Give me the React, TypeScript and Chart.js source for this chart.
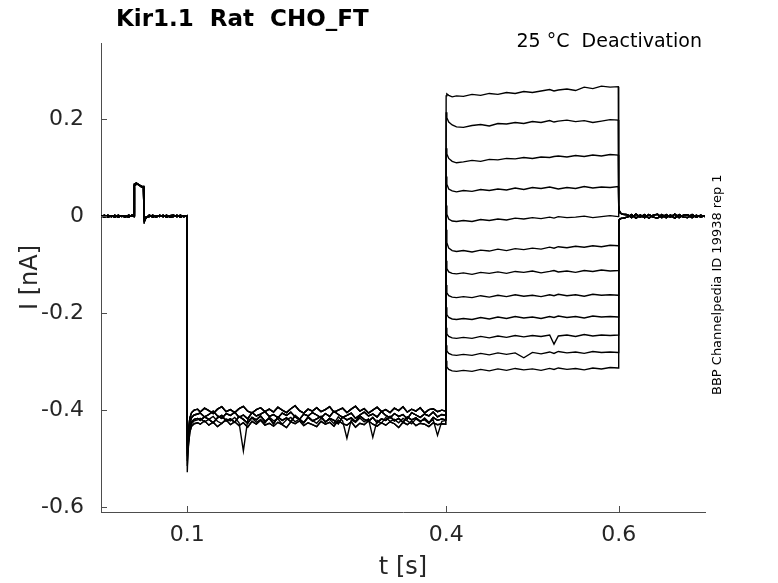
import React, { useEffect, useRef } from "react";
import { Chart, registerables } from "chart.js";

Chart.register(...registerables);

const xTicks = [0.1, 0.4, 0.6];
const yTicks = [-0.6, -0.4, -0.2, 0, 0.2];

// pre-step segment (holding + short prepulse), 2 variants
const preT = [0, 0.004, 0.008, 0.012, 0.016, 0.02, 0.024, 0.028, 0.032, 0.036, 0.0383, 0.0387, 0.041, 0.044, 0.047, 0.0493, 0.0497, 0.0503, 0.052, 0.056, 0.06, 0.064, 0.068, 0.072, 0.076, 0.08, 0.084, 0.088, 0.092, 0.096, 0.0995];
const preA = [0.001, -0.002, 0.002, -0.001, 0.002, -0.002, 0.001, -0.002, 0.002, 0.0, 0.001, 0.066, 0.068, 0.064, 0.062, 0.059, 0.003, -0.011, -0.004, 0.002, -0.002, 0.001, -0.001, 0.002, -0.002, 0.001, 0.002, -0.001, 0.002, -0.001, 0.001];
const preB = [-0.001, 0.002, -0.002, 0.001, -0.002, 0.002, -0.001, 0.001, -0.002, 0.002, -0.001, 0.063, 0.066, 0.065, 0.06, 0.061, 0.001, -0.008, -0.002, -0.001, 0.002, -0.002, 0.002, -0.001, 0.002, -0.002, -0.001, 0.002, -0.002, 0.001, -0.001];

// hyperpolarising step (0.1 - 0.4 s)
const holdPeaks = [-0.528, -0.505, -0.49, -0.515, -0.48, -0.47, -0.495, -0.46, -0.475, -0.465, -0.455, -0.45];
const holdT = [0.1015, 0.103, 0.105, 0.108, 0.112,
  0.115, 0.12, 0.125, 0.13, 0.135, 0.14, 0.145, 0.15, 0.155, 0.16, 0.165, 0.17, 0.175, 0.18, 0.185, 0.19, 0.195, 0.2, 0.205, 0.21, 0.215, 0.22, 0.225, 0.23, 0.235, 0.24, 0.245, 0.25, 0.255, 0.26, 0.265, 0.27, 0.275, 0.28, 0.285, 0.29, 0.295, 0.3, 0.305, 0.31, 0.315, 0.32, 0.325, 0.33, 0.335, 0.34, 0.345, 0.35, 0.355, 0.36, 0.365, 0.37, 0.375, 0.38, 0.385, 0.39, 0.395,
  0.3995];
const holdA = [-0.438, -0.416, -0.405, -0.4, -0.398,
  -0.404, -0.396, -0.401, -0.407, -0.398, -0.393, -0.403, -0.399, -0.405, -0.397,
  -0.392, -0.402, -0.406, -0.399, -0.395, -0.403, -0.398, -0.404, -0.394, -0.4,
  -0.405, -0.397, -0.391, -0.401, -0.406, -0.398, -0.402, -0.395, -0.403, -0.399,
  -0.393, -0.404, -0.4, -0.396, -0.405, -0.398, -0.392, -0.402, -0.397, -0.406,
  -0.4, -0.394, -0.403, -0.399, -0.405, -0.396, -0.401, -0.393, -0.404, -0.398,
  -0.402, -0.395, -0.406, -0.399, -0.397, -0.403, -0.4,
  -0.402];
const holdB = [-0.45, -0.426, -0.415, -0.41, -0.408,
  -0.406, -0.414, -0.409, -0.402, -0.412, -0.417, -0.407, -0.411, -0.404, -0.415,
  -0.41, -0.418, -0.405, -0.412, -0.408, -0.403, -0.413, -0.409, -0.416, -0.406,
  -0.411, -0.404, -0.414, -0.419, -0.408, -0.412, -0.405, -0.41, -0.416, -0.407,
  -0.413, -0.402, -0.409, -0.415, -0.411, -0.406, -0.417, -0.41, -0.404, -0.412,
  -0.408, -0.414, -0.403, -0.411, -0.416, -0.407, -0.413, -0.409, -0.418, -0.405,
  -0.41, -0.415, -0.408, -0.412, -0.404, -0.414, -0.409,
  -0.411];
const holdC = [-0.458, -0.435, -0.424, -0.419, -0.417,
  -0.421, -0.414, -0.419, -0.426, -0.416, -0.411, -0.422, -0.418, -0.425, -0.413,
  -0.419, -0.427, -0.415, -0.42, -0.412, -0.423, -0.417, -0.428, -0.414, -0.421,
  -0.416, -0.424, -0.411, -0.419, -0.426, -0.415, -0.422, -0.418, -0.413, -0.425,
  -0.417, -0.421, -0.428, -0.414, -0.42, -0.416, -0.424, -0.412, -0.419, -0.423,
  -0.415, -0.426, -0.418, -0.421, -0.413, -0.422, -0.417, -0.425, -0.414, -0.42,
  -0.416, -0.423, -0.419, -0.427, -0.415, -0.421, -0.418,
  -0.42];
const holdD = [-0.47, -0.445, -0.433, -0.428, -0.426,
  -0.429, -0.422, -0.431, -0.425, -0.434, -0.427, -0.42, -0.43, -0.424, -0.432,
  -0.426, -0.435, -0.423, -0.429, -0.421, -0.431, -0.427, -0.433, -0.425, -0.43,
  -0.436, -0.424, -0.428, -0.422, -0.432, -0.426, -0.43, -0.434, -0.423, -0.429,
  -0.425, -0.433, -0.421, -0.428, -0.431, -0.424, -0.435, -0.427, -0.43, -0.422,
  -0.429, -0.433, -0.426, -0.431, -0.424, -0.428, -0.436, -0.425, -0.43, -0.423,
  -0.432, -0.427, -0.429, -0.434, -0.426, -0.43, -0.428,
  -0.429];
const holdE = [-0.462, -0.44, -0.428, -0.422, -0.42,
  -0.417, -0.424, -0.419, -0.413, -0.423, -0.428, -0.418, -0.422, -0.415, -0.426,
  -0.484, -0.421, -0.416, -0.425, -0.419, -0.427, -0.414, -0.422, -0.418, -0.429,
  -0.42, -0.415, -0.424, -0.418, -0.426, -0.413, -0.421, -0.427, -0.417, -0.423,
  -0.419, -0.428, -0.414, -0.422, -0.458, -0.42, -0.425, -0.416, -0.424, -0.418,
  -0.456, -0.421, -0.427, -0.415, -0.423, -0.419, -0.426, -0.417, -0.422, -0.428,
  -0.418, -0.424, -0.416, -0.425, -0.42, -0.452, -0.423,
  -0.421];
const holdOfSweep = [holdA, holdB, holdC, holdD, holdA, holdB, holdC, holdD, holdA, holdB, holdC, holdE];

// test pulses (0.4 - 0.6 s), one per sweep
const testT = [0.4, 0.4008, 0.403, 0.407, 0.412, 0.42, 0.43, 0.44, 0.45, 0.46, 0.47, 0.48, 0.49, 0.5, 0.51, 0.52, 0.525, 0.53, 0.54, 0.55, 0.56, 0.57, 0.58, 0.59, 0.5995];
const test1 = [0.248, 0.252, 0.249, 0.246, 0.248, 0.247, 0.251, 0.249, 0.253, 0.251, 0.255, 0.253, 0.257, 0.255, 0.258, 0.261, 0.258, 0.26, 0.262, 0.259, 0.266, 0.263, 0.268, 0.266, 0.267];
const test2 = [0.214, 0.203, 0.194, 0.188, 0.184, 0.183, 0.187, 0.189, 0.186, 0.191, 0.19, 0.193, 0.191, 0.195, 0.193, 0.197, 0.194, 0.196, 0.198, 0.195, 0.197, 0.193, 0.196, 0.199, 0.198];
const test3 = [0.14, 0.128, 0.119, 0.113, 0.11, 0.112, 0.115, 0.113, 0.117, 0.116, 0.119, 0.118, 0.121, 0.119, 0.122, 0.121, 0.123, 0.124, 0.122, 0.125, 0.123, 0.126, 0.124, 0.127, 0.126];
const test4 = [0.082, 0.066, 0.056, 0.052, 0.05, 0.053, 0.051, 0.055, 0.053, 0.056, 0.054, 0.058, 0.055, 0.059, 0.057, 0.06, 0.058, 0.056, 0.059, 0.057, 0.061, 0.058, 0.06, 0.059, 0.061];
const test5 = [0.022, 0.004, -0.006, -0.01, -0.011, -0.009, -0.011, -0.007, -0.009, -0.006, -0.008, -0.004, -0.006, -0.003, -0.005, -0.002, -0.004, -0.001, -0.003, -0.002, 0.0, -0.003, -0.001, 0.001, -0.001];
const test6 = [-0.028, -0.055, -0.066, -0.071, -0.073, -0.071, -0.074, -0.07, -0.072, -0.068, -0.071, -0.067, -0.069, -0.066, -0.068, -0.064, -0.066, -0.063, -0.065, -0.062, -0.064, -0.061, -0.063, -0.06, -0.061];
const test7 = [-0.092, -0.108, -0.115, -0.118, -0.119, -0.117, -0.12, -0.116, -0.118, -0.115, -0.118, -0.114, -0.116, -0.113, -0.117, -0.114, -0.112, -0.115, -0.113, -0.116, -0.112, -0.114, -0.111, -0.113, -0.112];
const test8 = [-0.142, -0.158, -0.164, -0.167, -0.168, -0.166, -0.168, -0.164, -0.167, -0.163, -0.166, -0.162, -0.165, -0.163, -0.166, -0.162, -0.164, -0.161, -0.164, -0.162, -0.165, -0.161, -0.163, -0.162, -0.163];
const test9 = [-0.188, -0.203, -0.209, -0.212, -0.213, -0.211, -0.213, -0.209, -0.212, -0.208, -0.211, -0.207, -0.21, -0.208, -0.211, -0.207, -0.209, -0.206, -0.209, -0.207, -0.21, -0.206, -0.208, -0.207, -0.208];
const test10 = [-0.23, -0.243, -0.248, -0.251, -0.252, -0.25, -0.252, -0.248, -0.251, -0.247, -0.25, -0.246, -0.249, -0.246, -0.248, -0.245, -0.264, -0.247, -0.245, -0.248, -0.244, -0.247, -0.245, -0.246, -0.245];
const test11 = [-0.266, -0.278, -0.283, -0.286, -0.287, -0.285, -0.287, -0.283, -0.286, -0.282, -0.285, -0.282, -0.292, -0.281, -0.284, -0.28, -0.283, -0.279, -0.282, -0.28, -0.283, -0.279, -0.281, -0.28, -0.281];
const test12 = [-0.298, -0.311, -0.316, -0.319, -0.32, -0.318, -0.32, -0.316, -0.319, -0.315, -0.318, -0.314, -0.317, -0.315, -0.318, -0.314, -0.316, -0.313, -0.316, -0.314, -0.317, -0.313, -0.315, -0.312, -0.313];
const tests = [test1, test2, test3, test4, test5, test6, test7, test8, test9, test10, test11, test12];

// return to holding (0.6 - 0.7 s), 2 variants
const tailT = [0.6, 0.6005, 0.602, 0.605, 0.61, 0.615, 0.62, 0.625, 0.63, 0.635, 0.64, 0.645, 0.65, 0.655, 0.66, 0.665, 0.67, 0.675, 0.68, 0.685, 0.69, 0.695, 0.7];
const tailA = [0.022, 0.012, 0.006, 0.004, 0.003, -0.003, 0.004, -0.002, 0.003, -0.004, 0.002, 0.004, -0.003, 0.003, -0.002, 0.004, -0.003, 0.002, 0.003, -0.003, 0.002, -0.002, 0.001];
const tailB = [-0.014, -0.008, -0.005, -0.004, -0.002, 0.003, -0.004, 0.002, -0.003, 0.003, -0.002, -0.004, 0.003, -0.003, 0.002, -0.004, 0.003, -0.002, -0.003, 0.003, -0.002, 0.002, -0.001];

const titleText = "Kir1.1  Rat  CHO_FT";
const noteText = "25 °C  Deactivation";
const sideText = "BBP Channelpedia ID 19938 rep 1";
const xLabel = "t [s]";
const yLabel = "I [nA]";

const FONT = '"DejaVu Sans", sans-serif';

const decorPlugin = {
  id: "decor",
  afterDraw(chart: any) {
    const { ctx, chartArea, scales } = chart;
    ctx.save();
    // inward tick marks
    ctx.strokeStyle = "#4d4d4d";
    ctx.lineWidth = 1;
    ctx.beginPath();
    for (const v of xTicks) {
      const px = Math.round(scales.x.getPixelForValue(v)) + 0.5;
      ctx.moveTo(px, chartArea.bottom);
      ctx.lineTo(px, chartArea.bottom - 6);
    }
    for (const v of yTicks) {
      const py = Math.round(scales.y.getPixelForValue(v)) + 0.5;
      ctx.moveTo(chartArea.left, py);
      ctx.lineTo(chartArea.left + 6, py);
    }
    ctx.stroke();

    // title
    ctx.fillStyle = "#000";
    ctx.font = `bold 23px ${FONT}`;
    ctx.textAlign = "left";
    ctx.textBaseline = "alphabetic";
    ctx.fillText(titleText, 116, 26);

    // annotation
    ctx.font = `19px ${FONT}`;
    ctx.textAlign = "right";
    ctx.fillText(noteText, 702, 47);

    // axis labels
    ctx.fillStyle = "#262626";
    ctx.font = `24px ${FONT}`;
    ctx.textAlign = "center";
    ctx.textBaseline = "middle";
    ctx.fillText(xLabel, (chartArea.left + chartArea.right) / 2, 568);
    ctx.save();
    ctx.translate(31, (chartArea.top + chartArea.bottom) / 2);
    ctx.rotate(-Math.PI / 2);
    ctx.fillText(yLabel, 0, 0);
    ctx.restore();

    // side label
    ctx.fillStyle = "#000";
    ctx.font = `13px ${FONT}`;
    ctx.save();
    ctx.translate(721, 395);
    ctx.rotate(-Math.PI / 2);
    ctx.textAlign = "left";
    ctx.textBaseline = "alphabetic";
    ctx.fillText(sideText, 0, 0);
    ctx.restore();

    ctx.restore();
  },
};

export default function App() {
  const ref = useRef<HTMLCanvasElement | null>(null);

  useEffect(() => {
    if (!ref.current) return;
    const datasets = tests.map((test, k) => {
      const pre = k % 2 === 0 ? preA : preB;
      const hold = holdOfSweep[k];
      const tail = k < 5 ? tailA : tailB;
      const pts = [
        ...preT.map((t, i) => ({ x: t, y: pre[i] })),
        { x: 0.1, y: holdPeaks[k] },
        ...holdT.map((t, i) => ({ x: t, y: hold[i] })),
        ...testT.map((t, i) => ({ x: t, y: test[i] })),
        ...tailT.map((t, i) => ({ x: t, y: tail[i] })),
      ];
      return {
        data: pts,
        borderColor: "#000",
        borderWidth: 1.4,
        pointRadius: 0,
        fill: false,
        tension: 0,
      };
    });

    const chart = new Chart(ref.current, {
      type: "line",
      data: { datasets },
      options: {
        responsive: false,
        animation: false,
        layout: { padding: { top: 43, right: 73, left: 0, bottom: 0 } },
        plugins: { legend: { display: false }, tooltip: { enabled: false } },
        scales: {
          x: {
            type: "linear",
            min: 0,
            max: 0.7,
            afterBuildTicks: (s: any) => {
              s.ticks = xTicks.map((v) => ({ value: v }));
            },
            afterFit: (s: any) => {
              s.height = 71;
            },
            ticks: {
              font: { family: FONT, size: 22 },
              color: "#262626",
              padding: 10,
              maxRotation: 0,
              autoSkip: false,
              callback: (v: any) => String(v),
            },
            grid: { display: true, drawOnChartArea: false, drawTicks: false },
            border: { display: true, color: "#4d4d4d", width: 1 },
          },
          y: {
            type: "linear",
            min: -0.61,
            max: 0.357,
            afterBuildTicks: (s: any) => {
              s.ticks = yTicks.map((v) => ({ value: v }));
            },
            afterFit: (s: any) => {
              s.width = 101;
            },
            ticks: {
              font: { family: FONT, size: 22 },
              color: "#262626",
              padding: 17,
              autoSkip: false,
              callback: (v: any) => (v === 0 ? "0" : String(v)),
            },
            grid: { display: true, drawOnChartArea: false, drawTicks: false },
            border: { display: true, color: "#4d4d4d", width: 1 },
          },
        },
      },
      plugins: [decorPlugin],
    });
    return () => chart.destroy();
  }, []);

  return (
    <div style={{ position: "absolute", left: 0, top: 0, width: 778, height: 583, background: "#fff" }}>
      <canvas ref={ref} width={778} height={583} style={{ display: "block" }} />
    </div>
  );
}
